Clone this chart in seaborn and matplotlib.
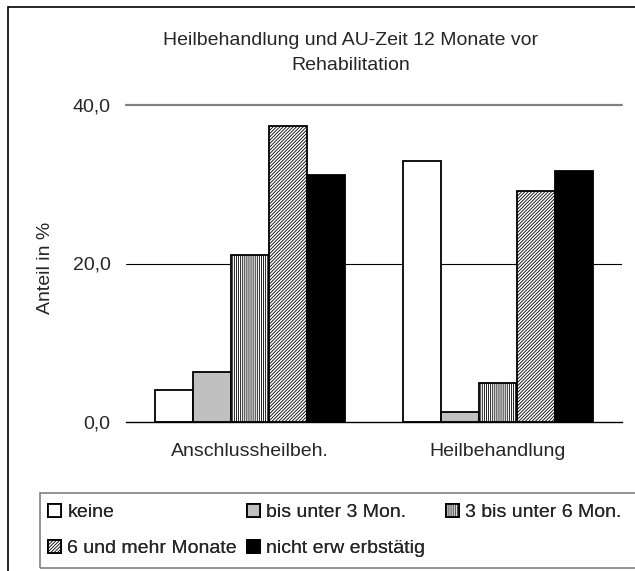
import numpy as np
import pandas as pd
import matplotlib
matplotlib.use("Agg")
import matplotlib.pyplot as plt
from matplotlib.patches import Rectangle
import seaborn as sns

categories = ["Anschlussheilbeh.", "Heilbehandlung"]
series = ["keine", "bis unter 3 Mon.", "3 bis unter 6 Mon.", "6 und mehr Monate", "nicht erw erbstätig"]
values_ahb = [4.0, 6.3, 21.1, 37.3, 31.2]
values_hb = [32.9, 1.2, 4.9, 29.1, 31.7]
yticks = [0, 20, 40]
ytick_labels = ["0,0", "20,0", "40,0"]
title = "Heilbehandlung und AU-Zeit 12 Monate vor\nRehabilitation"
ylabel = "Anteil in %"

colors = ["#FFFFFF", "#C0C0C0", "#FFFFFF", "#FFFFFF", "#000000"]
hatches = [None, None, "||||||||", "//////////", None]

df = pd.DataFrame({
    "Kategorie": [c for c, vals in zip(categories, [values_ahb, values_hb]) for _ in vals],
    "AU": series * 2,
    "Anteil": values_ahb + values_hb,
})

sns.set_style("white")
plt.rcParams["font.family"] = ["Liberation Sans", "DejaVu Sans"]
plt.rcParams["hatch.linewidth"] = 0.6
FS = 14

W, H = 635, 571
fig = plt.figure(figsize=(W / 100, H / 100), dpi=100)
ax = fig.add_axes([126 / W, 1 - 422 / H, 496 / W, 317 / H])

sns.barplot(data=df, x="Kategorie", y="Anteil", hue="AU", hue_order=series,
            order=categories, palette=colors, width=0.77, edgecolor="black",
            linewidth=1.3, ax=ax, legend=False, saturation=1, errorbar=None)

for cont, h in zip(ax.containers, hatches):
    for p in cont.patches:
        if h:
            p.set_hatch(h)

ax.set_xlim(-0.5, 1.5)
ax.set_ylim(0, 40)
ax.set_yticks(yticks)
ax.set_yticklabels(ytick_labels, fontsize=FS)
ax.tick_params(axis="y", length=0, pad=11)
ax.set_xticks(range(len(categories)))
ax.set_xticklabels(categories, fontsize=FS)
ax.tick_params(axis="x", which="major", length=0, pad=15)
ax.set_xticks([-0.5, 0.5, 1.5], minor=True)
ax.tick_params(axis="x", which="minor", length=5, width=1, direction="out", color="black")
ax.set_xlabel("")
ax.set_ylabel("")
for s in ["left", "top", "right"]:
    ax.spines[s].set_visible(False)
ax.spines["bottom"].set_color("black")
ax.spines["bottom"].set_linewidth(1)
ax.yaxis.grid(True, color="black", linewidth=0.8)
ax.set_axisbelow(True)
gl = ax.get_ygridlines()
gl[0].set_visible(False)
gl[2].set_color("#808080")
gl[2].set_linewidth(1.6)
gl[2].set_clip_on(False)

fig.text(351 / W, 1 - 53 / H, title, ha="center", va="center", fontsize=FS, linespacing=1.55)
fig.text(46 / W, 1 - 268 / H, ylabel, rotation=90, ha="center", va="center", fontsize=FS)

# outer chart frame and legend frame
fig.patches.append(Rectangle((8 / W, -0.1), 1.2, 1 - 7 / H + 0.1, transform=fig.transFigure,
                             fill=False, edgecolor="black", linewidth=1.2))
fig.patches.append(Rectangle((40 / W, 1 - 568 / H), 1.2, 75 / H, transform=fig.transFigure,
                             fill=False, edgecolor="#808080", linewidth=1.2))

handles = [cont.patches[0] for cont in ax.containers]
col_idx = [[0, 3], [1, 4], [2]]
col_x = [48, 247, 446]
for idx, x in zip(col_idx, col_x):
    leg = fig.legend([handles[i] for i in idx], [series[i] for i in idx],
                     loc="upper left", bbox_to_anchor=(x / W, 1 - 504 / H),
                     frameon=False, fontsize=FS, borderpad=0, borderaxespad=0,
                     handlelength=0.65, handleheight=0.65, handletextpad=0.35,
                     labelspacing=0.95)
    fig.add_artist(leg)

fig.savefig("out.png", dpi=100)
